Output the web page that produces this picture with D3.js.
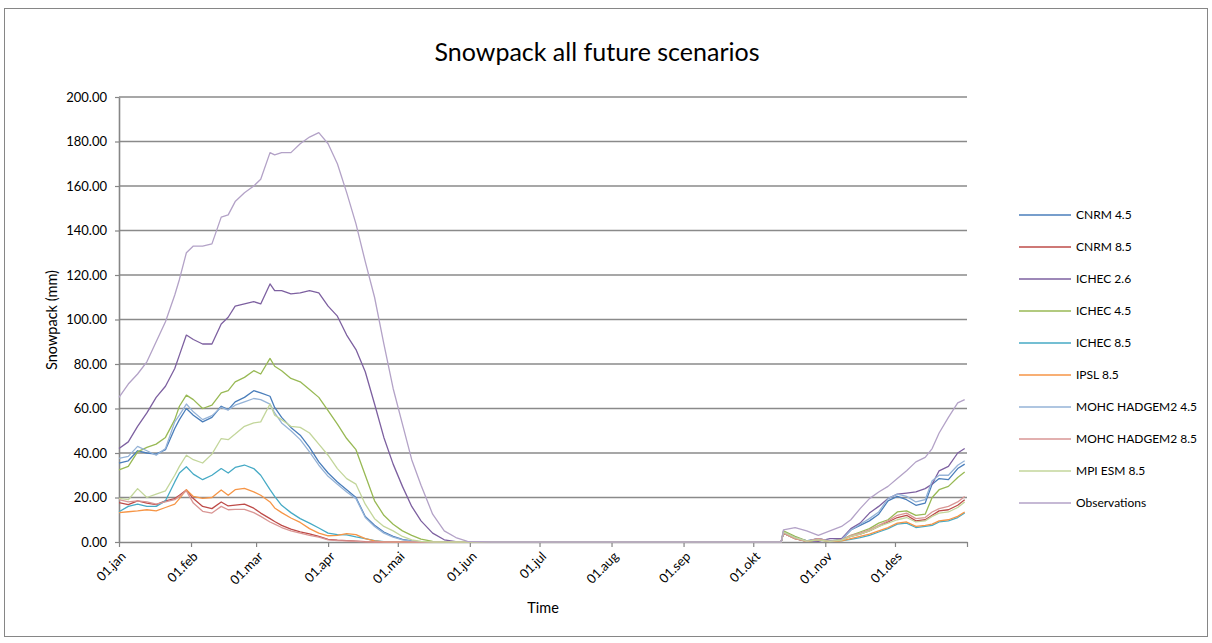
<!DOCTYPE html>
<html>
<head>
<meta charset="utf-8">
<script src="https://cdn.jsdelivr.net/npm/d3@7"></script>
<style>
  body { margin: 0; background: #fff; }
  text { font-family: Lato, 'Liberation Sans', sans-serif; fill: #000; }
</style>
</head>
<body>
<svg id="chart" width="1212" height="643"></svg>
<script>
// day of year (0 = 01.jan) for every value below
const days = [0, 4, 8, 12, 16, 20, 24, 26, 29, 32, 36, 40, 44, 47, 50, 54, 58, 61, 65, 67,
  70, 74, 78, 82, 86, 90, 94, 98, 102, 106, 110, 114, 118, 122, 126, 130, 135, 140, 145, 150,
  160, 175, 200, 230, 260, 285,
  286, 291, 296, 301, 306, 311, 315, 319, 323, 327, 331, 335, 339, 343, 347, 350, 353, 357, 361, 364]

const seriesNames = ['CNRM 4.5', 'CNRM 8.5', 'ICHEC 2.6', 'ICHEC 4.5', 'ICHEC 8.5', 'IPSL 8.5',
  'MOHC HADGEM2 4.5', 'MOHC HADGEM2 8.5', 'MPI ESM 8.5', 'Observations']

const cnrm45 = [35.4, 36.5, 41, 40, 39.5, 41.5, 51, 55, 60, 57, 54, 56, 61, 59.5, 63, 65, 68, 67, 65.5, 60.5,
  56, 51.5, 48, 42.5, 36, 31, 27, 23.5, 20, 11.5, 7.5, 4.5, 2.5, 1.2, 0.5, 0.1, 0, 0, 0, 0,
  0, 0, 0, 0, 0, 0,
  4.5, 2, 0.5, 1.5, 0.5, 1, 5.4, 7.5, 9.5, 12.5, 18.5, 20.5, 19, 16.5, 17.5, 26, 28.5, 28, 33, 35]
const cnrm85 = [17.7, 16.8, 18.5, 17.5, 16.8, 18.5, 19.5, 21, 23.4, 19.5, 16, 15, 18, 16.2, 16.6, 17, 15.2, 13, 10.5, 9.2,
  7.5, 5.8, 4.6, 3.6, 2.5, 1.2, 0.8, 0.6, 0.4, 0.2, 0.1, 0, 0, 0, 0, 0, 0, 0, 0, 0,
  0, 0, 0, 0, 0, 0,
  4, 1.5, 0.3, 1.5, 0.3, 1, 2.5, 3.5, 5, 7, 9, 11, 12, 9.5, 10, 12, 14, 14.5, 16.5, 19]
const ichec26 = [42, 45, 52, 58, 65, 70, 78, 84, 93, 91, 89, 89, 98, 101, 106, 107, 108, 107, 116, 113,
  113, 111.5, 112, 113, 112, 106, 101.5, 93, 86.5, 76.5, 62, 47, 35, 25, 16, 9.5, 4, 1, 0.2, 0,
  0, 0, 0, 0, 0, 0,
  4, 2, 0.5, 0.3, 1.5, 1.5, 6, 8.5, 13, 16, 19.5, 21.5, 22, 22.5, 24, 26, 32, 34, 40, 42]
const ichec45 = [32.4, 34, 40.5, 42.5, 44, 47, 55, 61, 66, 64, 60, 61.5, 67, 68, 72, 74, 77, 75.5, 82.5, 79,
  77, 73.5, 72, 68.5, 65, 59, 53, 46.5, 41.5, 30, 18.5, 12, 8, 5, 3, 1.3, 0.3, 0, 0, 0,
  0, 0, 0, 0, 0, 0,
  5, 2.5, 0.5, 1, 0.5, 1, 3, 4.5, 6, 8.5, 10, 13.5, 14, 12, 12.5, 20, 23.5, 25, 29, 31.5]
const ichec85 = [13.6, 16, 17, 16, 16, 18.5, 27, 31, 33.8, 30.5, 28, 30, 33, 31, 33.5, 34.6, 33, 30, 23.5, 20.5,
  16.5, 13.2, 10.5, 8.5, 6.3, 4, 3.3, 3.2, 2.3, 1.5, 0.6, 0.2, 0, 0, 0, 0, 0, 0, 0, 0,
  0, 0, 0, 0, 0, 0,
  4, 1.5, 0.3, 1, 0.2, 0.5, 1.2, 2, 3, 4.5, 6, 8, 8.5, 6.5, 7, 7.5, 9, 9.5, 11, 13]
const ipsl85 = [13.2, 13.6, 14, 14.5, 14, 15.5, 17, 19.5, 23.5, 20.5, 19.6, 20, 23.4, 21, 23.5, 24.1, 22.5, 21, 18, 15.3,
  13.2, 10.8, 8.8, 6, 4, 2.8, 3, 3.8, 3.3, 1.5, 0.5, 0.1, 0, 0, 0, 0, 0, 0, 0, 0,
  0, 0, 0, 0, 0, 0,
  4, 1.5, 0.3, 1, 0.2, 0.5, 1.5, 2.5, 3.5, 5, 6.5, 8.5, 9, 7, 7.5, 8, 9.5, 10, 11.5, 13.5]
const mohc45 = [37.6, 38.5, 43, 41, 39, 42, 54, 57, 62, 58.5, 55, 56.8, 60.5, 59.3, 61.5, 63, 64.5, 64, 62, 58,
  53.5, 50, 46, 40.5, 34.5, 29.5, 26, 22.5, 19.5, 11, 7, 4, 2.2, 1, 0.4, 0.1, 0, 0, 0, 0,
  0, 0, 0, 0, 0, 0,
  4.5, 2, 0.5, 1.5, 0.5, 1, 5.4, 8, 10.5, 13.5, 19.5, 21.5, 20.5, 18, 19, 27.5, 30, 30, 34.5, 36.5]
const mohc85 = [19, 18, 18.5, 18, 17, 18, 19, 20.5, 23, 17.5, 13.8, 13, 16, 14.5, 14.7, 14.7, 13.2, 11.5, 9, 8,
  6.5, 5, 4, 3, 2.2, 1, 0.6, 0.5, 0.3, 0.1, 0, 0, 0, 0, 0, 0, 0, 0, 0, 0,
  0, 0, 0, 0, 0, 0,
  4, 1.5, 0.3, 1.5, 0.3, 1, 3, 4, 5.5, 7.5, 9.5, 12, 13, 10.5, 11, 13.5, 15, 16, 18, 20.5]
const mpi85 = [19.6, 19, 24, 20, 21.5, 23, 30, 34, 39, 37, 35.5, 39.5, 46.5, 46, 48.5, 52, 53.5, 54, 62, 57,
  55, 52, 51.5, 49, 44, 39, 33, 28.5, 26, 17, 10.5, 7, 5, 2.5, 1, 0.3, 0, 0, 0, 0,
  0, 0, 0, 0, 0, 0,
  4.5, 2, 0.4, 1, 0.3, 0.8, 2.5, 3.5, 5, 7, 8.5, 10, 11, 9, 9.5, 11.5, 13, 13.5, 15.5, 18]
const observations = [65, 71, 75.5, 81, 90, 99, 111, 118, 130, 133, 133, 134, 146, 147, 153, 157, 160, 163, 175, 174,
  175, 175, 179, 182, 184, 179, 170, 157, 143, 126, 110, 89, 69, 53, 37, 25.5, 12.5, 5, 2, 0.3,
  0, 0, 0, 0, 0, 0,
  5.4, 6.5, 5, 3, 5, 7, 10, 15, 19.5, 22.5, 25, 28.5, 32, 36, 38, 42, 49, 56, 62.5, 64]

const monthStarts = [0, 31, 59, 90, 120, 151, 181, 212, 243, 273, 304, 334]
const monthLabels = ['01.jan', '01.feb', '01.mar', '01.apr', '01.mai', '01.jun', '01.jul',
  '01.aug', '01.sep', '01.okt', '01.nov', '01.des']
const yTicks = [0, 20, 40, 60, 80, 100, 120, 140, 160, 180, 200]

const colors = ['#4a7ebb', '#be4b48', '#7d60a0', '#98b954', '#46aac5', '#f69546',
  '#95b3d7', '#d99694', '#c3d69b', '#b3a2c7']

const values = [cnrm45, cnrm85, ichec26, ichec45, ichec85, ipsl85, mohc45, mohc85, mpi85, observations]

const svg = d3.select('#chart')

// chart area border
svg.append('rect')
  .attr('x', 4.5).attr('y', 8.5)
  .attr('width', 1203).attr('height', 628)
  .attr('fill', 'none')
  .attr('stroke', '#868686')
  .attr('stroke-width', 1)

let x = d3.scaleLinear().domain([0, 365]).range([119, 967])
let y = d3.scaleLinear().domain([0, 200]).range([542, 97])

// gridlines
svg.append('g')
  .attr('class', 'grid')
  .selectAll('line')
  .data(yTicks.filter(d => d > 0))
  .enter().append('line')
    .attr('x1', x(0)).attr('x2', x(365))
    .attr('y1', d => y(d)).attr('y2', d => y(d))
    .attr('stroke', '#8a8a8a')
    .attr('stroke-width', 1.6)

let yAxis = d3.axisLeft(y)
  .tickValues(yTicks)
  .tickFormat(d => d.toFixed(2))
  .tickSize(4)
  .tickSizeOuter(0)
  .tickPadding(8)

let gy = svg.append('g')
  .attr('class', 'y axis')
  .attr('transform', 'translate(' + x(0) + ',0)')
  .call(yAxis)
gy.select('.domain').attr('stroke', '#868686').attr('stroke-width', 1.6)
gy.selectAll('.tick line').attr('stroke', '#868686').attr('stroke-width', 1.2)
gy.selectAll('.tick text').style('font-size', '13px').attr('fill', '#000')

let xAxis = d3.axisBottom(x)
  .tickValues(monthStarts.concat([365]))
  .tickFormat((d, i) => monthLabels[i] || '')
  .tickSize(5)
  .tickSizeOuter(0)

let gx = svg.append('g')
  .attr('class', 'x axis')
  .attr('transform', 'translate(0,' + y(0) + ')')
  .call(xAxis)
gx.select('.domain').attr('stroke', '#868686').attr('stroke-width', 1.6)
gx.selectAll('.tick line').attr('stroke', '#868686').attr('stroke-width', 1.2)
gx.selectAll('.tick text')
  .style('font-size', '13px')
  .attr('fill', '#000')
  .attr('text-anchor', 'end')
  .attr('x', 0).attr('y', 0).attr('dy', '0.35em')
  .attr('transform', 'translate(4,12) rotate(-45)')

// series lines
let line = d3.line()
  .x((d, i) => x(days[i]))
  .y(d => y(d))

for (let s = 0; s < values.length; s++) {
  svg.append('path')
    .datum(values[s])
    .attr('class', 'series')
    .attr('fill', 'none')
    .attr('stroke', colors[s])
    .attr('stroke-width', 1.3)
    .attr('stroke-linejoin', 'round')
    .attr('d', line)
}

// titles
svg.append('text')
  .attr('x', 597).attr('y', 52)
  .attr('dy', '0.35em')
  .attr('text-anchor', 'middle')
  .style('font-size', '25px')
  .text('Snowpack all future scenarios')

svg.append('text')
  .attr('transform', 'translate(52,320) rotate(-90)')
  .attr('dy', '0.35em')
  .attr('text-anchor', 'middle')
  .style('font-size', '14.5px')
  .text('Snowpack (mm)')

svg.append('text')
  .attr('x', 543).attr('y', 608)
  .attr('dy', '0.35em')
  .attr('text-anchor', 'middle')
  .style('font-size', '14.5px')
  .text('Time')

// legend
let legend = svg.append('g').attr('class', 'legend')
  .selectAll('g')
  .data(seriesNames)
  .enter().append('g')
    .attr('transform', (d, i) => 'translate(1019,' + (215 + i * 32) + ')')
legend.append('line')
  .attr('x1', 0).attr('x2', 52)
  .attr('y1', 0).attr('y2', 0)
  .attr('stroke', (d, i) => colors[i])
  .attr('stroke-width', 1.3)
legend.append('text')
  .attr('x', 57).attr('y', 0)
  .attr('dy', '0.35em')
  .style('font-size', '12px')
  .text(d => d)
</script>
</body>
</html>
